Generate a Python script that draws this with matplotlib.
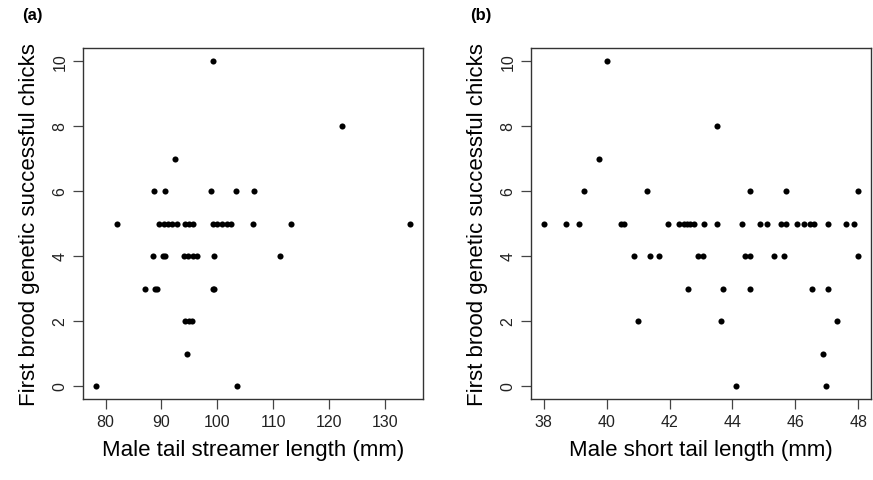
import numpy as np
import matplotlib.pyplot as plt

plt.rcParams['font.family'] = ['Liberation Sans', 'DejaVu Sans']

# (a) male tail streamer length vs chicks
streamer_x = [99.3, 122.3, 92.5,
              88.6, 90.7, 98.8, 103.3, 106.6,
              82.0, 89.6, 90.4, 91.1, 91.9, 92.8, 94.2, 95.0, 95.7,
              99.2, 100.0, 100.8, 101.7, 102.4, 106.4, 113.2, 134.6,
              88.4, 90.2, 90.6, 94.1, 94.8, 95.6, 96.4, 99.4, 111.2,
              87.0, 88.8, 89.2, 99.2, 99.4,
              94.3, 94.9, 95.5,
              94.5,
              78.2, 103.6]
streamer_y = [10, 8, 7,
              6, 6, 6, 6, 6,
              5, 5, 5, 5, 5, 5, 5, 5, 5,
              5, 5, 5, 5, 5, 5, 5, 5,
              4, 4, 4, 4, 4, 4, 4, 4, 4,
              3, 3, 3, 3, 3,
              2, 2, 2,
              1,
              0, 0]

# (b) male short tail length vs chicks
short_x = [40.0, 43.5, 39.77,
           39.28, 41.3, 44.57, 45.7, 48.0,
           38.0, 38.72, 39.11, 40.46, 40.54, 41.95, 42.31, 42.45, 42.55,
           42.66, 42.78, 43.08, 43.5, 44.29, 44.86, 45.09, 45.55, 45.7,
           46.04, 46.28, 46.47, 46.6, 47.02, 47.59, 47.87,
           40.88, 41.37, 41.68, 42.92, 43.05, 44.41, 44.56, 45.33, 45.64, 47.98,
           42.58, 43.69, 44.55, 46.52, 47.02,
           41.0, 43.64, 47.31,
           46.87,
           44.12, 46.97]
short_y = [10, 8, 7,
           6, 6, 6, 6, 6,
           5, 5, 5, 5, 5, 5, 5, 5, 5,
           5, 5, 5, 5, 5, 5, 5, 5, 5,
           5, 5, 5, 5, 5, 5, 5,
           4, 4, 4, 4, 4, 4, 4, 4, 4, 4,
           3, 3, 3, 3, 3,
           2, 2, 2,
           1,
           0, 0]

y_ticks = [0, 2, 4, 6, 8, 10]
ylab = 'First brood genetic successful chicks'

fig = plt.figure(figsize=(8.73, 4.81), dpi=100)
ax1 = fig.add_axes([83/873, 81/481, 340/873, 351/481])
ax2 = fig.add_axes([531/873, 81/481, 340/873, 351/481])


def r_style(ax, x, y, xticks, xlab, tag):
    ax.plot(x, y, 'o', color='black', markersize=4.4, markeredgewidth=0)
    lo, hi = min(x), max(x)
    pad = (hi - lo) * 0.04
    ax.set_xlim(lo - pad, hi + pad)
    ax.set_ylim(-0.4, 10.4)
    ax.set_xticks(xticks)
    ax.set_yticks(y_ticks)
    ax.set_yticklabels([str(v) for v in y_ticks], rotation=90, va='center')
    ax.tick_params(length=7, width=0.9, color='#444444', labelsize=11.5,
                   labelcolor='#222222', pad=4)
    for s in ax.spines.values():
        s.set_color('#333333')
        s.set_linewidth(1.0)
    ax.set_xlabel(xlab, fontsize=16, labelpad=7)
    ax.set_ylabel(ylab, fontsize=16, labelpad=9)
    ax.text(-0.18, 1.095, tag, transform=ax.transAxes, fontsize=12,
            fontweight='bold', va='center', ha='left')


r_style(ax1, streamer_x, streamer_y, [80, 90, 100, 110, 120, 130],
        'Male tail streamer length (mm)', '(a)')
r_style(ax2, short_x, short_y, [38, 40, 42, 44, 46, 48],
        'Male short tail length (mm)', '(b)')

plt.savefig('out.png', dpi=100)
